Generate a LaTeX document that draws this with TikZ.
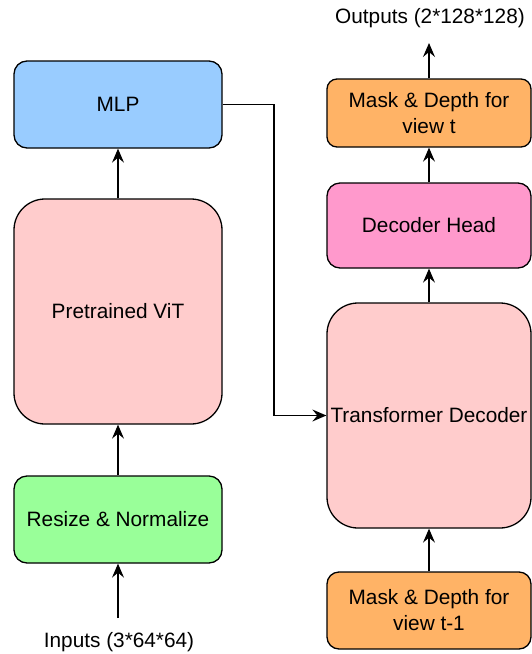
\documentclass[tikz,border=0pt]{standalone}
\usepackage{fontspec}
\setmainfont{Liberation Sans}
\usetikzlibrary{arrows.meta}
\definecolor{mlpblue}{HTML}{99CCFF}
\definecolor{vitpink}{HTML}{FFCCCC}
\definecolor{rsgreen}{HTML}{99FF99}
\definecolor{mdorange}{HTML}{FFB366}
\definecolor{dhpink}{HTML}{FF99CC}
\tikzset{
  blk/.style={draw=black, line width=1.3pt, rectangle, inner sep=0pt, align=center,
    font=\fontsize{20.8}{26}\selectfont, text=black},
  lbl/.style={inner sep=0pt, font=\fontsize{20.8}{24}\selectfont, text=black},
  conn/.style={line width=1.3pt, -{Stealth[length=14pt, width=12pt, inset=5pt]}},
  plain/.style={line width=1.3pt}
}
\begin{document}
\begin{tikzpicture}[x=1pt, y=-1pt]
\useasboundingbox (0,0) rectangle (532,654);
% left column
\node[blk, fill=mlpblue, minimum width=208pt, minimum height=87pt, rounded corners=13pt] (mlp) at (118,104.5) {MLP};
\node[blk, fill=vitpink, minimum width=208pt, minimum height=225pt, rounded corners=31pt] (vit) at (118,311.5) {Pretrained ViT};
\node[blk, fill=rsgreen, minimum width=208pt, minimum height=87pt, rounded corners=13pt] (rs) at (118,519.5) {Resize \& Normalize};
\node[lbl] (in) at (119,642) {Inputs (3*64*64)};
\coordinate (inS) at (118,618);
% right column
\node[blk, fill=mdorange, minimum width=204pt, minimum height=68pt, rounded corners=10pt] (mdt) at (429,113) {Mask \& Depth for\\view t};
\node[blk, fill=dhpink, minimum width=204pt, minimum height=85pt, rounded corners=13pt] (dh) at (429,225.5) {Decoder Head};
\node[blk, fill=vitpink, minimum width=204pt, minimum height=225pt, rounded corners=31pt] (td) at (429,415.5) {Transformer Decoder};
\node[blk, fill=mdorange, minimum width=204pt, minimum height=77pt, rounded corners=12pt] (mdp) at (429,610.5) {Mask \& Depth for\\view t-1};
\node[lbl] (out) at (430,18) {Outputs (2*128*128)};
\coordinate (outE) at (429,43);
% connectors
\draw[conn] (inS) -- (rs.south);
\draw[conn] (rs.north) -- (vit.south);
\draw[conn] (vit.north) -- (mlp.south);
\draw[conn] (mlp.east) -- (274,104.5) |- (td.west);
\draw[conn] (mdp.north) -- (td.south);
\draw[conn] (td.north) -- (dh.south);
\draw[conn] (dh.north) -- (mdt.south);
\draw[conn] (mdt.north) -- (outE);
\end{tikzpicture}
\end{document}
